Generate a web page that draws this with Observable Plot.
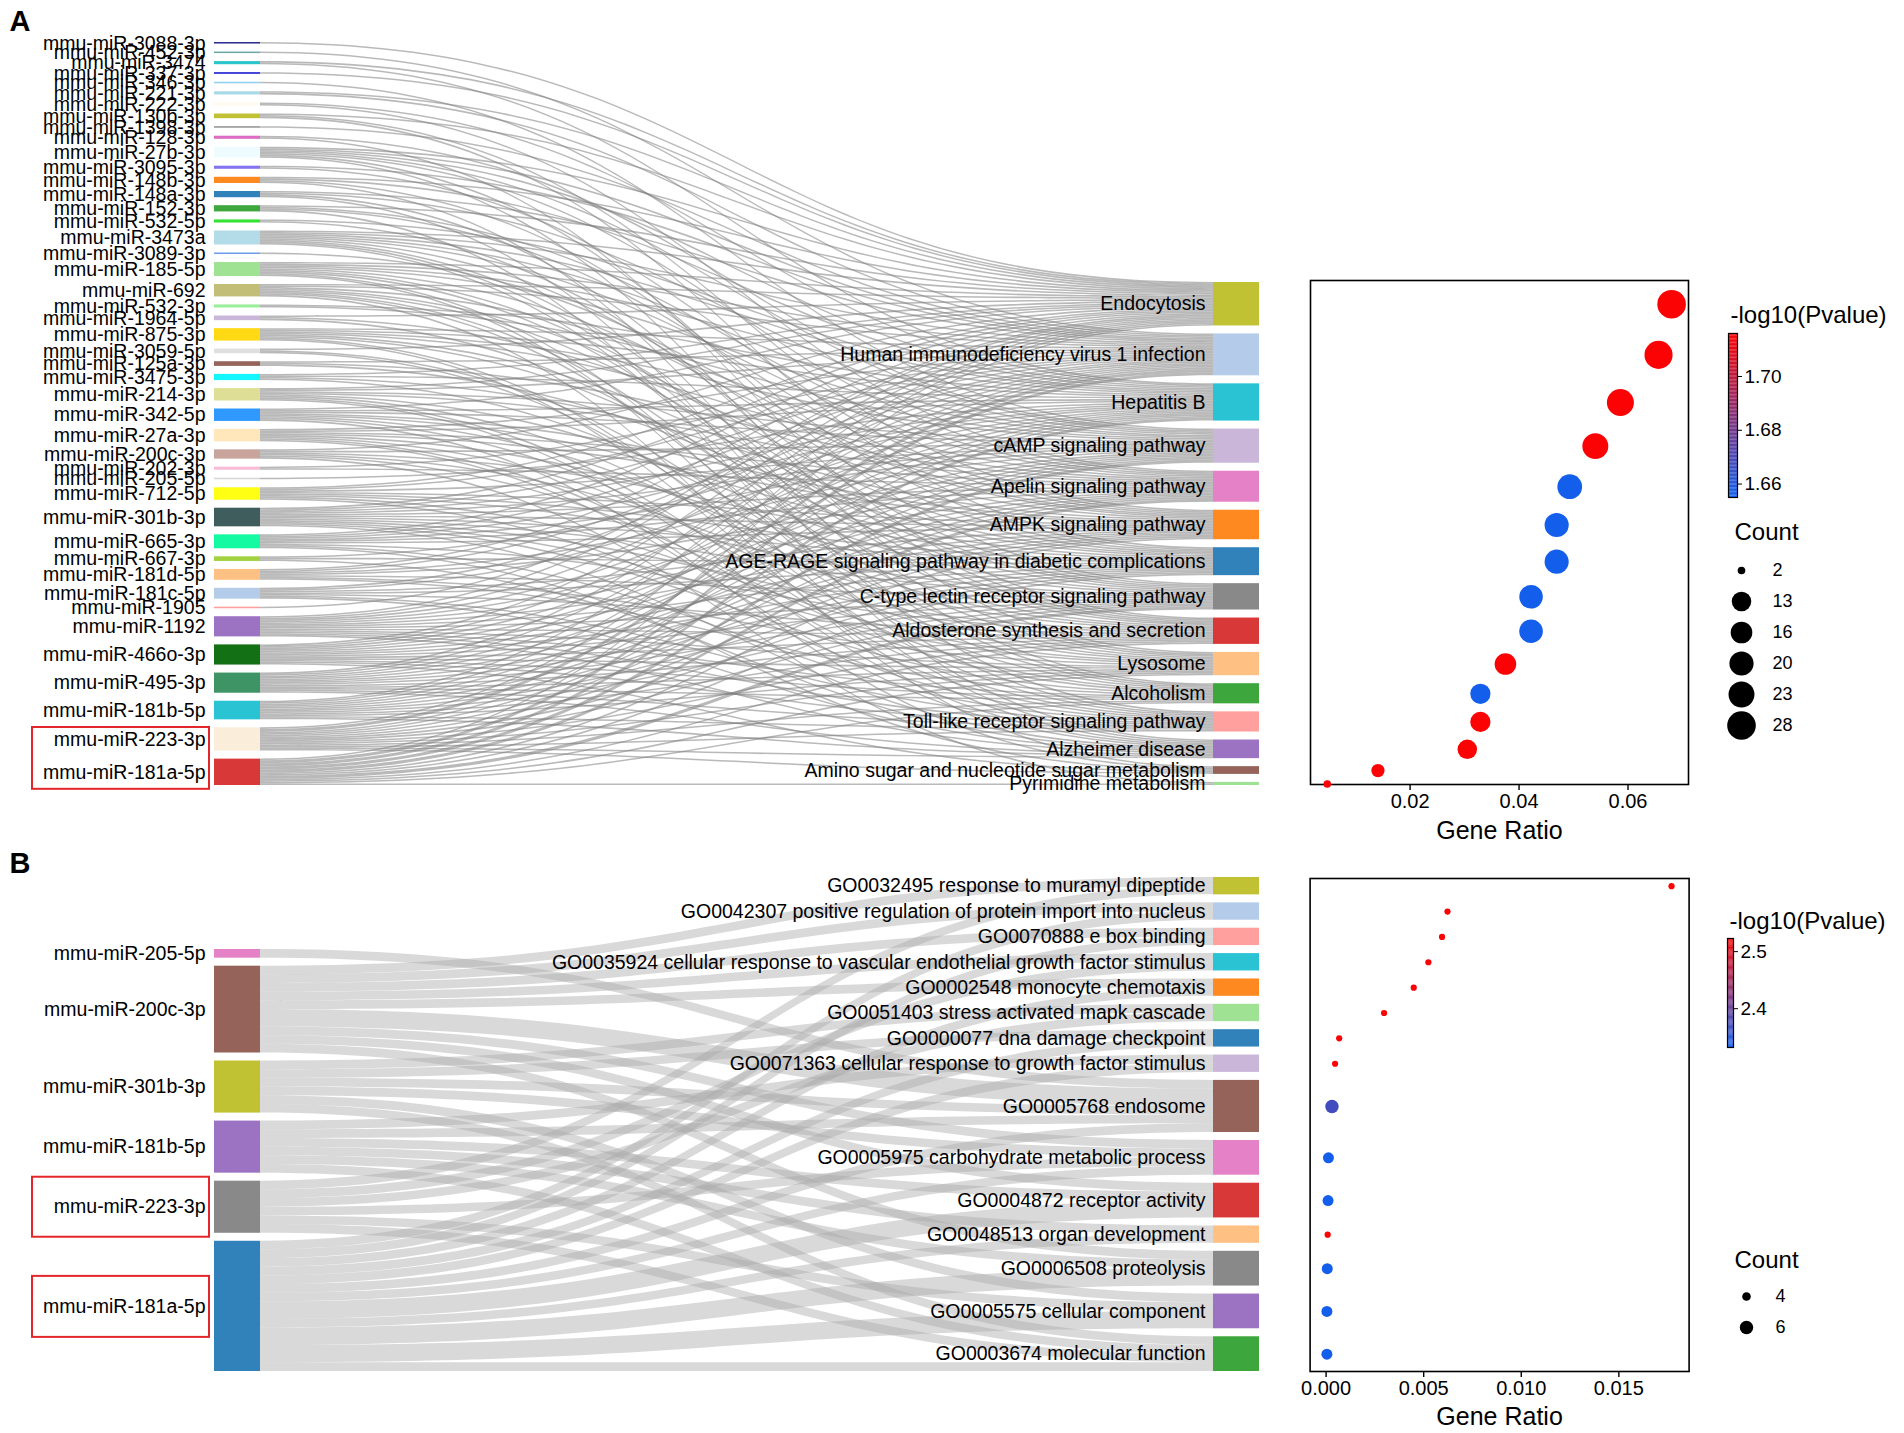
<!DOCTYPE html>
<html>
<head>
<meta charset="utf-8">
<script src="https://cdn.jsdelivr.net/npm/d3@7"></script>
<script src="https://cdn.jsdelivr.net/npm/@observablehq/plot@0.6"></script>
<style>
html,body{margin:0;padding:0;background:#fff;}
#root{position:relative;width:1904px;height:1433px;overflow:hidden;background:#fff;}
</style>
</head>
<body>
<div id="root"></div>
<script>
// ================= DATA : panel A =================
const mirnaA = ["mmu-miR-3088-3p","mmu-miR-452-3p","mmu-miR-3474","mmu-miR-337-3p","mmu-miR-346-3p","mmu-miR-221-3p","mmu-miR-222-3p","mmu-miR-130b-3p","mmu-miR-1398-3p","mmu-miR-128-3p","mmu-miR-27b-3p","mmu-miR-3095-3p","mmu-miR-148b-3p","mmu-miR-148a-3p","mmu-miR-152-3p","mmu-miR-532-5p","mmu-miR-3473a","mmu-miR-3089-3p","mmu-miR-185-5p","mmu-miR-692","mmu-miR-532-3p","mmu-miR-1964-5p","mmu-miR-875-3p","mmu-miR-3059-5p","mmu-miR-125a-3p","mmu-miR-3475-3p","mmu-miR-214-3p","mmu-miR-342-5p","mmu-miR-27a-3p","mmu-miR-200c-3p","mmu-miR-202-3p","mmu-miR-205-5p","mmu-miR-712-5p","mmu-miR-301b-3p","mmu-miR-665-3p","mmu-miR-667-3p","mmu-miR-181d-5p","mmu-miR-181c-5p","mmu-miR-1905","mmu-miR-1192","mmu-miR-466o-3p","mmu-miR-495-3p","mmu-miR-181b-5p","mmu-miR-223-3p","mmu-miR-181a-5p"];
const pathwaysA = ["Endocytosis","Human immunodeficiency virus 1 infection","Hepatitis B","cAMP signaling pathway","Apelin signaling pathway","AMPK signaling pathway","AGE-RAGE signaling pathway in diabetic complications","C-type lectin receptor signaling pathway","Aldosterone synthesis and secretion","Lysosome","Alcoholism","Toll-like receptor signaling pathway","Alzheimer disease","Amino sugar and nucleotide sugar metabolism","Pyrimidine metabolism"];
// target pathway indices of each miRNA (one entry = one unit of flow)
const targetsA = [[0],[1],[0,2],[0],[3],[0,1],[2,4],[0,5,6],[1],[3,8],
  [0,1,2,3,4,7,9],[1,5],[0,2,6,10],[1,3,8,11],[0,4,5,12],[2,7],[0,1,2,3,4,6,8,9,10],[5],
  [0,1,2,3,5,7,8,11,12],[0,1,4,6,7,9,10,13],[2,3],[0,5,8],[1,2,3,4,6,7,11,12],[0,9,10],[1,4,6],[0,2,5,8],
  [0,1,3,4,7,9,11,12],[0,2,3,5,6,8,10,13],[1,2,4,5,7,9,11,12],[0,3,6,8,10,14],[1,4],[2],[0,1,3,5,6,7,9,11],
  [0,1,2,3,4,5,6,7,8,9,10,12],[0,1,2,3,4,5,8,11,13],[2,6,12],[0,1,3,4,7,9,10],[1,2,5,6,8,11,12],[0],
  [0,1,2,3,4,5,6,7,8,9,10,11,12],[0,1,2,3,4,5,6,7,8,9,10,11,13],[0,1,2,3,4,5,6,7,8,9,10,11,12],
  [0,1,2,3,4,5,6,7,8,9,11,12],[0,1,1,2,3,4,5,6,7,8,9,10,11,12,13],[0,1,1,2,2,3,3,4,4,5,6,7,7,8,9,10,14]];
const geneRatioA = [0.068,0.0656,0.0586,0.054,0.0493,0.0469,0.0469,0.0422,0.0422,0.0375,0.0329,0.0329,0.0305,0.0141,0.0048];
const countA = [28,27,25,23,21,20,20,19,19,16,14,14,13,6,2];
const log10pA = [1.715,1.715,1.715,1.715,1.656,1.656,1.656,1.656,1.656,1.715,1.656,1.715,1.715,1.715,1.715];
const countBreaksA = [2,13,16,20,23,28];
const colorTicksA = [1.66,1.68,1.70];
const xTicksA = [0.02,0.04,0.06];

// ================= DATA : panel B =================
const mirnaB = ["mmu-miR-205-5p","mmu-miR-200c-3p","mmu-miR-301b-3p","mmu-miR-181b-5p","mmu-miR-223-3p","mmu-miR-181a-5p"];
const goTermsB = ["GO0032495 response to muramyl dipeptide","GO0042307 positive regulation of protein import into nucleus","GO0070888 e box binding","GO0035924 cellular response to vascular endothelial growth factor stimulus","GO0002548 monocyte chemotaxis","GO0051403 stress activated mapk cascade","GO0000077 dna damage checkpoint","GO0071363 cellular response to growth factor stimulus","GO0005768 endosome","GO0005975 carbohydrate metabolic process","GO0004872 receptor activity","GO0048513 organ development","GO0006508 proteolysis","GO0005575 cellular component","GO0003674 molecular function"];
const targetsB = [[8],[0,1,2,3,4,8,8,9,10,12],[5,6,8,9,13,14],[7,8,10,11,12,14],[0,3,5,9,13,14],[1,2,4,6,7,8,9,10,10,11,12,12,13,13,14]];
const geneRatioB = [0.0177,0.00622,0.00594,0.00524,0.00449,0.00297,0.00067,0.00046,0.0003,0.00012,0.0001,0.00008,0.00006,0.00004,0.00004];
const countB = [3,3,3,3,3,3,3,3,6,5,5,3,5,5,5];
const log10pB = [2.52,2.52,2.52,2.52,2.52,2.52,2.52,2.52,2.372,2.335,2.335,2.52,2.335,2.335,2.335];
const countBreaksB = [4,6];
const colorTicksB = [2.4,2.5];
const xTicksB = [0,0.005,0.01,0.015];

// ================= STYLES =================
const mirnaColorsA = ["#1c1c8c","#5f9ea0","#17bfc8","#0000cd","#87ceeb","#9fd6e6","#fff8ee","#bcbd22","#8c8c8c","#da5fc0","#eefcff","#7b68ee","#ff7f0e","#1f77b4","#2ca02c","#22e022","#add8e6","#6495ed","#98df8a","#bdb76b","#90ee90","#c5b0d5","#ffd700","#dcdcdc","#8c564b","#00f5ff","#dbdb8d","#1e90ff","#ffe4b5","#c49c94","#f7b6d2","#d3d3d3","#ffff00","#2f4f4f","#00fa9a","#9acd32","#ffbb78","#aec7e8","#ff9896","#9467bd","#006400","#2e8b57","#17becf","#faebd7","#d62728"];
const pathwayColorsA = ["#bcbd22","#aec7e8","#17becf","#c5b0d5","#e377c2","#ff7f0e","#1f77b4","#7f7f7f","#d62728","#ffbb78","#2ca02c","#ff9896","#9467bd","#8c564b","#98df8a"];
const mirnaColorsB = ["#e377c2","#8c564b","#bcbd22","#9467bd","#7f7f7f","#1f77b4"];
const goColorsB = ["#bcbd22","#aec7e8","#ff9896","#17becf","#ff7f0e","#98df8a","#1f77b4","#c5b0d5","#8c564b","#e377c2","#d62728","#ffbb78","#7f7f7f","#9467bd","#2ca02c"];
const BLUE = "#1060f0", RED = "#ff0000", BOXRED = "#e3262a";
const FONT = "'Liberation Sans', Arial, Helvetica, sans-serif";

// ================= LAYOUT =================
function buildSankey(targets, nL, nR, gapU) {
  const agg = new Map();
  targets.forEach((ts, s) => ts.forEach(t => { const k = s + "-" + t; agg.set(k, (agg.get(k) || 0) + 1); }));
  const links = [...agg].map(([k, v]) => { const [s, t] = k.split("-").map(Number); return {s, t, v}; });
  const valL = Array(nL).fill(0), valR = Array(nR).fill(0);
  links.forEach(l => { valL[l.s] += l.v; valR[l.t] += l.v; });
  const totL = d3.sum(valL) + (nL - 1) * gapU, totR = d3.sum(valR) + (nR - 1) * gapU;
  const total = Math.max(totL, totR);
  const stack = (vals, tot) => { let y = total - tot; return vals.map(v => { const n = {y0: y, y1: y + v, c: y + v / 2}; y += v + gapU; return n; }); };
  const L = stack(valL, totL), R = stack(valR, totR);
  const outOff = L.map(n => n.y0), inOff = R.map(n => n.y0);
  links.slice().sort((a, b) => a.s - b.s || a.t - b.t).forEach(l => { l.ys = outOff[l.s]; outOff[l.s] += l.v; });
  links.slice().sort((a, b) => a.t - b.t || a.s - b.s).forEach(l => { l.yt = inOff[l.t]; inOff[l.t] += l.v; });
  return {L, R, links, total};
}
const NW = 46 / 1045;
const SA = buildSankey(targetsA, mirnaA.length, pathwaysA.length, 5.156);
const SB = buildSankey(targetsB, mirnaB.length, goTermsB.length, 0.9215);
const yRangeA = [42, 785];
const yRangeB = [37, 531];

const root = document.getElementById("root");
function place(node, left, top) {
  node.style.position = "absolute"; node.style.left = left + "px"; node.style.top = top + "px";
  root.appendChild(node);
}
const baseStyle = {fontFamily: FONT, background: "transparent", overflow: "visible", maxWidth: "none", color: "#000"};

function sankeyPlot(S, leftNames, rightNames, leftColors, rightColors, o) {
  const rows = [];
  S.links.forEach((l, i) => {
    rows.push({id: i, x: NW, ya: l.ys, yb: l.ys + l.v});
    rows.push({id: i, x: 1 - NW, ya: l.yt, yb: l.yt + l.v});
  });
  const ln = S.L.map((n, i) => ({...n, name: leftNames[i], color: leftColors[i]}));
  const rn = S.R.map((n, i) => ({...n, name: rightNames[i], color: rightColors[i]}));
  return Plot.plot({
    width: 1300, height: o.height, margin: 0,
    style: baseStyle,
    x: {domain: [0, 1], range: [214, 1259], axis: null},
    y: {domain: [0, S.total], range: o.yRange, axis: null},
    color: {type: "identity"},
    marks: [
      Plot.area(rows, {x1: "x", y1: "ya", y2: "yb", z: "id", curve: "bump-x", fill: o.linkFill, fillOpacity: o.linkOpacity}),
      Plot.rect(ln, {x1: 0, x2: NW, y1: "y0", y2: "y1", fill: "color", fillOpacity: 0.92}),
      Plot.rect(rn, {x1: 1 - NW, x2: 1, y1: "y0", y2: "y1", fill: "color", fillOpacity: 0.92}),
      Plot.text(ln, {x: 0, y: "c", text: "name", textAnchor: "end", dx: -9, fontSize: 19.5, fill: "#000"}),
      Plot.text(rn, {x: 1 - NW, y: "c", text: "name", textAnchor: "end", dx: -8, fontSize: 19.5, fill: "#000"}),
      ...o.boxes.map(b => Plot.rect([b], {x1: 0, x2: 0, y1: b.y1, y2: b.y2, insetLeft: -182, insetRight: 5, insetTop: b.t, insetBottom: b.b, fill: "none", stroke: BOXRED, strokeWidth: 2})),
      Plot.text([o.letter], {frameAnchor: "top-left", dx: 9, dy: o.letterDy, lineAnchor: "top", fontSize: 29, fontWeight: "bold", fill: "#000"})
    ]
  });
}

function dotPlot(S, ratio, count, logp, o) {
  const data = S.R.map((n, i) => ({c: n.c, ratio: ratio[i], count: count[i], p: logp[i]}));
  return Plot.plot({
    width: 614, height: o.height,
    marginLeft: o.xRange[0], marginRight: 614 - o.xRange[1], marginTop: o.frameTop, marginBottom: o.height - o.frameBottom,
    style: {...baseStyle, fontSize: "20px"},
    x: {domain: o.xDomain, range: o.xRange, axis: null, label: null},
    y: {domain: [0, S.total], range: o.yRange, axis: null, label: null},
    r: o.r,
    color: {type: "linear", domain: o.cDomain, range: [BLUE, RED], interpolate: "rgb", clamp: true},
    marks: [
      Plot.frame({stroke: "#000", strokeWidth: 1.6}),
      Plot.axisX({anchor: "bottom", ticks: o.ticks, tickFormat: o.fmt, tickSize: 6, tickPadding: 3, fontSize: 20, strokeWidth: 1.4, label: null}),
      Plot.dot(data, {x: "ratio", y: "c", r: "count", fill: "p", stroke: null}),
      Plot.text(["Gene Ratio"], {frameAnchor: "bottom", dy: o.labelDy, lineAnchor: "middle", fontSize: 25, fill: "#000"})
    ]
  });
}

function colorBar(o) {
  const n = 120, step = (o.domain[1] - o.domain[0]) / n;
  const grad = d3.range(n).map(i => o.domain[0] + i * step);
  return Plot.plot({
    width: 204, height: o.height,
    marginLeft: o.x[0], marginRight: 204 - o.x[1], marginTop: o.y[1], marginBottom: o.height - o.y[0],
    style: {...baseStyle, fontSize: "19px"},
    x: {domain: [0, 1], range: o.x, axis: null},
    y: {domain: o.domain, range: o.y, axis: null, label: null},
    color: {type: "linear", domain: o.domain, range: [BLUE, RED], interpolate: "rgb"},
    marks: [
      Plot.rect(grad, {x1: 0, x2: 1, y1: d => d, y2: d => d + step * 1.05, fill: d => d + step / 2}),
      Plot.frame({stroke: "#000", strokeWidth: 1.2}),
      Plot.axisY({anchor: "right", ticks: o.ticks, tickFormat: o.fmt, tickSize: 4, tickPadding: 3, fontSize: 19, label: null}),
      Plot.text(["-log10(Pvalue)"], {frameAnchor: "top-left", dx: 2, dy: o.titleDy, textAnchor: "start", lineAnchor: "middle", fontSize: 24, fill: "#000"})
    ]
  });
}

function sizeLegend(o) {
  return Plot.plot({
    width: 204, height: o.height,
    marginLeft: o.x[0], marginRight: 204 - o.x[1], marginTop: o.y[0], marginBottom: o.height - o.y[1],
    style: baseStyle,
    x: {domain: [0, 1], range: o.x, axis: null},
    y: {type: "point", domain: o.breaks, range: o.y, padding: 0, axis: null},
    r: o.r,
    marks: [
      Plot.dot(o.breaks, {x: 0, y: d => d, r: d => d, fill: "#000", stroke: null}),
      Plot.text(o.breaks, {x: 1, y: d => d, text: d => String(d), textAnchor: "start", fontSize: 18, fill: "#000"}),
      Plot.text(["Count"], {frameAnchor: "top-left", dx: o.titleDx, dy: -36, textAnchor: "start", lineAnchor: "middle", fontSize: 24, fill: "#000"})
    ]
  });
}

const rA = {type: "sqrt", domain: [0, 28], range: [0, 14.3]};
const rB = {type: "linear", domain: [4, 6], range: [4.3, 6.7]};

// ----- Panel A -----
place(sankeyPlot(SA, mirnaA, pathwaysA, mirnaColorsA, pathwayColorsA, {
  height: 840, yRange: yRangeA, linkFill: "#808080", linkOpacity: 0.55, letter: "A", letterDy: 10,
  boxes: [{y1: SA.L[43].c, y2: SA.L[44].c, t: -12, b: -17}]
}), 0, 0);
place(dotPlot(SA, geneRatioA, countA, log10pA, {
  height: 840, frameTop: 280, frameBottom: 784, xDomain: [0.00172, 0.0711], xRange: [20, 398],
  yRange: yRangeA, r: rA, cDomain: [1.655, 1.716], ticks: xTicksA, fmt: ".2f", labelDy: 46
}), 1290, 0);
place(colorBar({height: 560, x: [28, 37], y: [497, 333], domain: [1.655, 1.716], ticks: colorTicksA, fmt: ".2f", titleDy: -18}), 1700, 0);
place(sizeLegend({height: 760, x: [41, 72], y: [568, 726], breaks: countBreaksA, r: rA, titleDx: -7}), 1700, 0);

// ----- Panel B -----
place(sankeyPlot(SB, mirnaB, goTermsB, mirnaColorsB, goColorsB, {
  height: 593, yRange: yRangeB, linkFill: "#aaa", linkOpacity: 0.45, letter: "B", letterDy: 12,
  boxes: [{y1: SB.L[4].c, y2: SB.L[4].c, t: -30, b: -30}, {y1: SB.L[5].c, y2: SB.L[5].c, t: -30, b: -31}]
}), 0, 840);
place(dotPlot(SB, geneRatioB, countB, log10pB, {
  height: 593, frameTop: 38, frameBottom: 531, xDomain: [-0.00082, 0.0186], xRange: [19.6, 398.6],
  yRange: yRangeB, r: rB, cDomain: [2.332, 2.523], ticks: xTicksB, fmt: ".3f", labelDy: 45
}), 1290, 840);
place(colorBar({height: 300, x: [27, 33], y: [207, 98], domain: [2.332, 2.523], ticks: colorTicksB, fmt: ".1f", titleDy: -17}), 1700, 840);
place(sizeLegend({height: 560, x: [46, 75], y: [456, 487], breaks: countBreaksB, r: rB, titleDx: -12}), 1700, 840);
</script>
</body>
</html>
